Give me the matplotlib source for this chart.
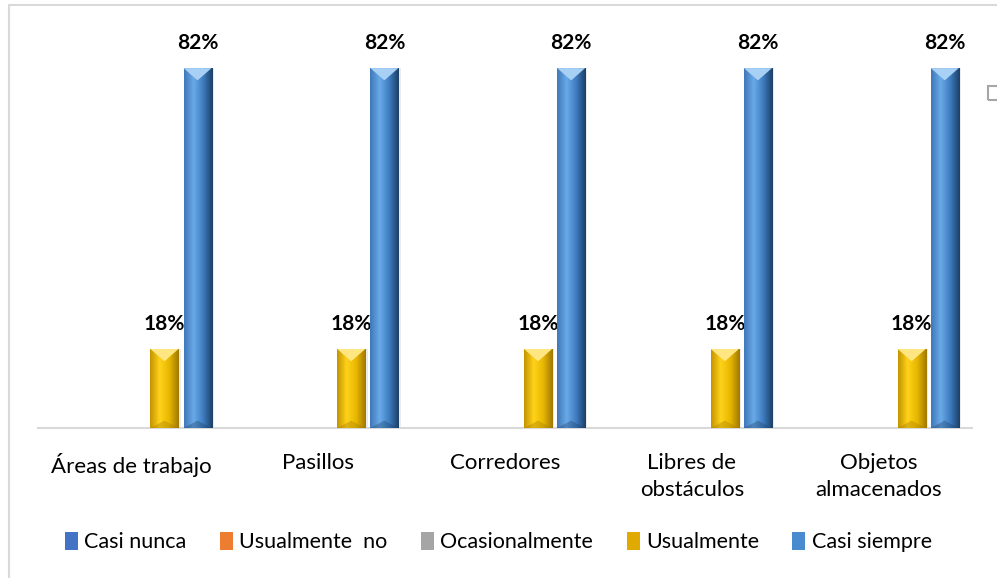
import numpy as np
import matplotlib.pyplot as plt
from matplotlib.colors import LinearSegmentedColormap
from matplotlib.patches import Polygon, Rectangle, Patch

plt.rcParams['font.family'] = ['Lato', 'DejaVu Sans']

categories = ['Áreas de trabajo', 'Pasillos', 'Corredores',
              'Libres de\nobstáculos', 'Objetos\nalmacenados']
series = ['Casi nunca', 'Usualmente  no', 'Ocasionalmente', 'Usualmente', 'Casi siempre']
values = {
    'Casi nunca': [0, 0, 0, 0, 0],
    'Usualmente  no': [0, 0, 0, 0, 0],
    'Ocasionalmente': [0, 0, 0, 0, 0],
    'Usualmente': [0.18, 0.18, 0.18, 0.18, 0.18],
    'Casi siempre': [0.82, 0.82, 0.82, 0.82, 0.82],
}
colors = ['#4472C4', '#ED7D31', '#A5A5A5', '#E0AA00', '#4A8BD0']

# gradient (left -> center -> right) and top bevel colour for the 3D-looking bars
gradients = {
    'Usualmente': (['#C49400', '#FFD21A', '#E8B800', '#A07800'], '#FFE680'),
    'Casi siempre': (['#3F78B8', '#6AAAE8', '#3E7CC0', '#1C3F66'], '#A8D0F5'),
}

fig = plt.figure(figsize=(9.97, 5.78), dpi=100)
ax = fig.add_axes([38 / 997, 150 / 578, 934 / 997, 395 / 578])

x = np.arange(len(categories))
step = 0.177
width = 0.15
for i, name in enumerate(series):
    pos = x + (i - 2) * step
    bars = ax.bar(pos, values[name], width, color=colors[i], zorder=2)
    if name in gradients:
        cols, top = gradients[name]
        cmap = LinearSegmentedColormap.from_list(name, cols)
        grad = np.linspace(0, 1, 64).reshape(1, -1)
        for b in bars:
            x0, w, h = b.get_x(), b.get_width(), b.get_height()
            im = ax.imshow(grad, cmap=cmap, aspect='auto', zorder=3,
                           extent=[x0, x0 + w, 0, h], interpolation='bicubic')
            im.set_clip_path(b)
            d = 0.028
            ax.add_patch(Polygon([(x0, h), (x0 + w, h), (x0 + w / 2, h - d)],
                                 closed=True, color=top, zorder=4, lw=0))
            ax.add_patch(Polygon([(x0, 0), (x0 + w, 0), (x0 + w / 2, d * 0.6)],
                                 closed=True, color=cols[-1], alpha=0.35, zorder=4, lw=0))
            ax.add_patch(Rectangle((x0 + w, 0), 0.012, h, color='#000000',
                                   alpha=0.08, zorder=1, lw=0))
            ax.annotate(f'{h * 100:.0f}%', (x0 + w / 2, h), xytext=(0, 14),
                        textcoords='offset points', ha='center', va='baseline',
                        fontsize=15, fontweight='bold', color='black')

ax.set_xlim(-0.5, len(categories) - 0.5)
ax.set_ylim(0, 0.9)
ax.set_xticks(x)
ax.set_xticklabels(categories, fontsize=16, linespacing=1.45)
ax.tick_params(axis='x', length=0, pad=18)
ax.set_yticks([])
for s in ['top', 'right', 'left']:
    ax.spines[s].set_visible(False)
ax.spines['bottom'].set_color('#D9D9D9')
ax.spines['bottom'].set_linewidth(1.5)

handles = [Patch(facecolor=c, edgecolor='none') for c in colors]
fig.legend(handles, series, loc='center', bbox_to_anchor=(0.5, 1 - 542 / 578),
           ncol=5, frameon=False, fontsize=15.5, handlelength=0.6, handleheight=0.9,
           handletextpad=0.3, columnspacing=1.55)

# chart area border and a clipped legend-like box at the right edge
fig.add_artist(Rectangle((8.5 / 997, -0.1), 1.2, (578 - 5.5) / 578 + 0.1,
                         transform=fig.transFigure, fill=False,
                         edgecolor='#D9D9D9', lw=1.5))
fig.add_artist(Rectangle((988 / 997, 1 - 100 / 578), 14 / 997, 14 / 578,
                         transform=fig.transFigure, fill=False,
                         edgecolor='#A6A6A6', lw=1.5))

fig.savefig('out.png', dpi=100)
